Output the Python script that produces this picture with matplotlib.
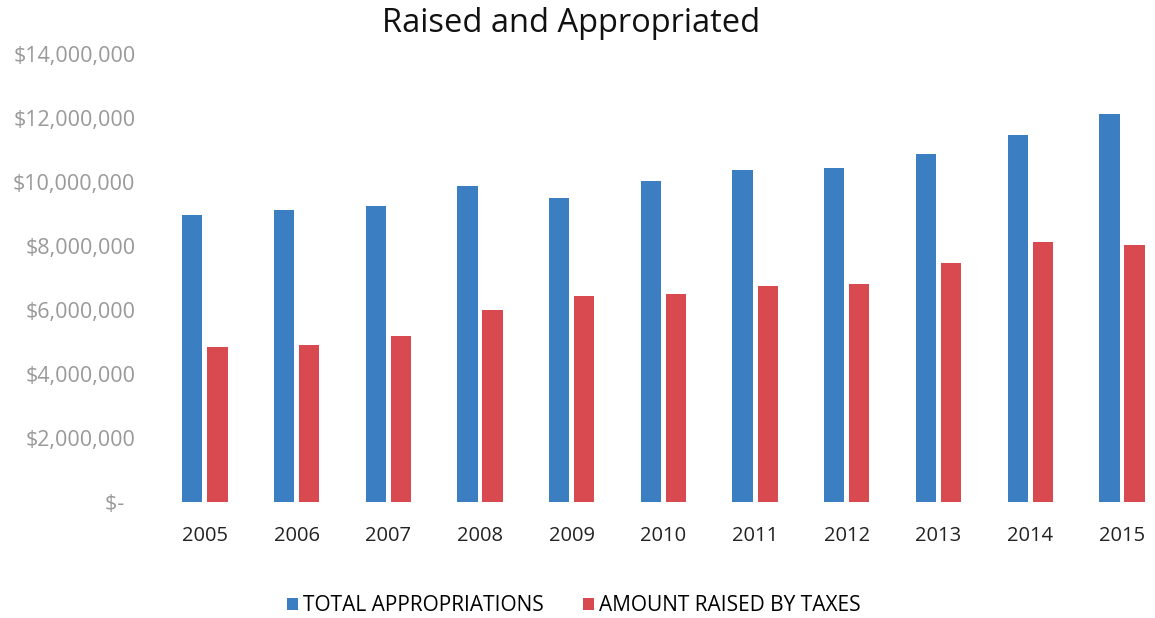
import numpy as np
import matplotlib.pyplot as plt
from matplotlib.ticker import FuncFormatter

# ============================== Data ==========================================
years = ['2005', '2006', '2007', '2008', '2009', '2010',
         '2011', '2012', '2013', '2014', '2015']
total_appropriations = [8970000, 9130000, 9250000, 9860000, 9510000, 10030000,
                        10380000, 10440000, 10880000, 11480000, 12130000]
raised_by_taxes = [4830000, 4900000, 5190000, 6000000, 6440000, 6490000,
                   6760000, 6820000, 7460000, 8130000, 8030000]

blue = '#3b7ec2'
red = '#d84a50'
plt.rcParams['font.family'] = ['Open Sans', 'DejaVu Sans']

# ============================== Plot ==========================================
fig = plt.figure(figsize=(11.55, 6.18), dpi=100)
ax = fig.add_axes([159 / 1155, 116 / 618, 1 - 159 / 1155, 448 / 618])

x = np.arange(len(years))
w = 0.22
off = 0.137
ax.bar(x - off, total_appropriations, w, color=blue, label='TOTAL APPROPRIATIONS')
ax.bar(x + off, raised_by_taxes, w, color=red, label='AMOUNT RAISED BY TAXES')

ax.set_xlim(-0.5, 10.36)
ax.set_ylim(0, 14000000)
ax.set_yticks(np.arange(0, 14000001, 2000000))
ax.yaxis.set_major_formatter(FuncFormatter(lambda v, p: '$-  ' if v == 0 else '${:,.0f}'.format(v)))
ax.set_xticks(x)
ax.set_xticklabels(years)

for s in ax.spines.values():
    s.set_visible(False)
ax.tick_params(axis='both', length=0)
ax.tick_params(axis='y', labelsize=15.5, labelcolor='#999999', pad=17)
ax.tick_params(axis='x', labelsize=14.5, labelcolor='#222222', pad=17)

fig.text(0.494, 0.962, 'Raised and Appropriated', ha='center', va='center',
         fontsize=23.5, color='#111111')

fig.legend(loc='center', bbox_to_anchor=(0.497, 0.02), ncol=2, frameon=False,
           fontsize=15, handlelength=0.5, handleheight=0.5, handletextpad=0.25,
           columnspacing=1.9)

plt.savefig('out.png', dpi=100)
